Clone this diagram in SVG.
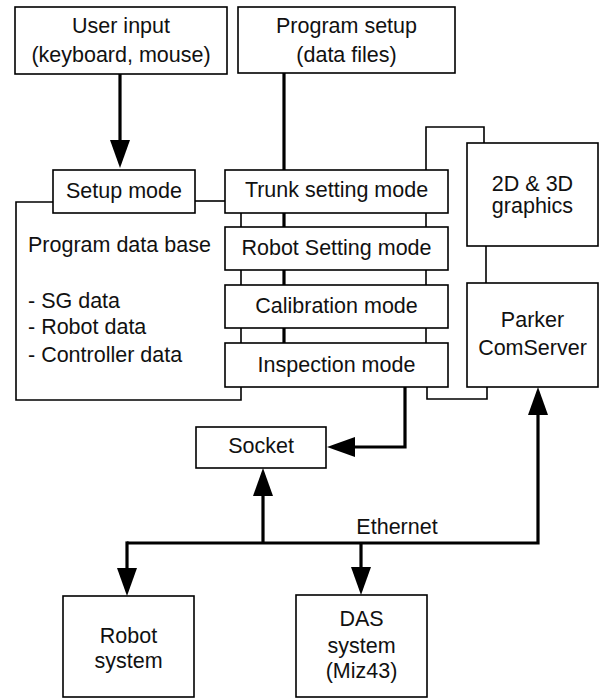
<svg xmlns="http://www.w3.org/2000/svg" width="601" height="700" viewBox="0 0 601 700">
<style>
  .box { fill: #ffffff; stroke: #000000; stroke-width: 1.6; }
  .thin { fill: none; stroke: #000000; stroke-width: 1.6; }
  .thick { fill: none; stroke: #000000; stroke-width: 3.2; }
  text { font-family: "Liberation Sans", Arial, sans-serif; font-size: 21.5px; fill: #111111; }
  .c { text-anchor: middle; }
</style>
<defs>
  <marker id="arrow" markerUnits="userSpaceOnUse" markerWidth="28" markerHeight="20" viewBox="0 0 28 20" refX="14" refY="10" orient="auto">
    <path d="M0,0 L28,10 L0,20 Z" fill="#000000"/>
  </marker>
</defs>
<rect width="601" height="700" fill="#ffffff"/>

<g id="connectors">
  <line class="thick" x1="120" y1="74" x2="120" y2="154" marker-end="url(#arrow)"/>
  <line class="thick" x1="284" y1="73" x2="284" y2="343"/>
  <line class="thin" x1="195" y1="201" x2="225" y2="201"/>
  <polyline class="thin" points="53,202 16,202 16,400 241,400 241,213"/>
  <line class="thin" x1="426" y1="170" x2="426" y2="343"/>
  <polyline class="thin" points="426,170 426,127 484,127 484,143"/>
  <line class="thin" x1="486" y1="246" x2="486" y2="283"/>
  <polyline class="thin" points="427,387 427,399 487,399 487,387"/>
  <polyline class="thick" points="405,387 405,447 341,447" marker-end="url(#arrow)"/>
  <polyline class="thick" points="127,543 538,543 538,401" marker-end="url(#arrow)"/>
  <line class="thick" x1="127" y1="541.4" x2="127" y2="582" marker-end="url(#arrow)"/>
  <line class="thick" x1="263" y1="543" x2="263" y2="482" marker-end="url(#arrow)"/>
  <line class="thick" x1="361" y1="543" x2="361" y2="581" marker-end="url(#arrow)"/>
  <text class="c" x="397" y="534">Ethernet</text>
</g>

<g id="user-input">
  <rect class="box" x="15" y="7" width="212" height="67"/>
  <text class="c" x="121" y="33">User input</text>
  <text class="c" x="121" y="62">(keyboard, mouse)</text>
</g>
<g id="program-setup">
  <rect class="box" x="238" y="7" width="217" height="66"/>
  <text class="c" x="346.5" y="33">Program setup</text>
  <text class="c" x="346.5" y="62">(data files)</text>
</g>
<g id="setup-mode">
  <rect class="box" x="53" y="170" width="142" height="43"/>
  <text class="c" x="124" y="198">Setup mode</text>
</g>
<g id="program-data-base">
  <text x="28" y="252">Program data base</text>
  <text x="28" y="308">- SG data</text>
  <text x="28" y="334">- Robot data</text>
  <text x="28" y="362">- Controller data</text>
</g>
<g id="trunk-setting-mode">
  <rect class="box" x="225" y="170" width="223" height="43"/>
  <text class="c" x="336.5" y="197">Trunk setting mode</text>
</g>
<g id="robot-setting-mode">
  <rect class="box" x="225" y="227" width="223" height="43"/>
  <text class="c" x="336.5" y="255">Robot Setting mode</text>
</g>
<g id="calibration-mode">
  <rect class="box" x="225" y="285" width="223" height="43"/>
  <text class="c" x="336.5" y="313">Calibration mode</text>
</g>
<g id="inspection-mode">
  <rect class="box" x="225" y="343" width="223" height="44"/>
  <text class="c" x="336.5" y="372">Inspection mode</text>
</g>
<g id="graphics">
  <rect class="box" x="467" y="143" width="131" height="103"/>
  <text class="c" x="532.5" y="191">2D &amp; 3D</text>
  <text class="c" x="532.5" y="213">graphics</text>
</g>
<g id="parker-comserver">
  <rect class="box" x="467" y="283" width="131" height="104"/>
  <text class="c" x="532.5" y="327">Parker</text>
  <text class="c" x="532.5" y="355">ComServer</text>
</g>
<g id="socket">
  <rect class="box" x="196" y="427" width="130" height="41"/>
  <text class="c" x="261" y="453">Socket</text>
</g>
<g id="robot-system">
  <rect class="box" x="63" y="596" width="131" height="101"/>
  <text class="c" x="128.5" y="643">Robot</text>
  <text class="c" x="128.5" y="668">system</text>
</g>
<g id="das-system">
  <rect class="box" x="296" y="595" width="131" height="102"/>
  <text class="c" x="361.5" y="626">DAS</text>
  <text class="c" x="361.5" y="653">system</text>
  <text class="c" x="361.5" y="678">(Miz43)</text>
</g>
</svg>
